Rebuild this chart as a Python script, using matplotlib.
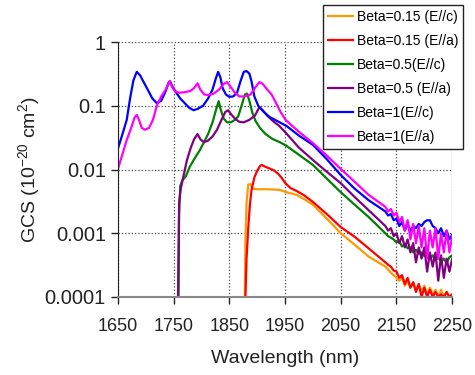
import matplotlib.pyplot as plt

plt.rcParams['font.family'] = ['Liberation Sans', 'DejaVu Sans']
plt.rcParams['mathtext.default'] = 'regular'

# noisy tail wavelengths shared by all curves (read every 5 nm)
tail_wl = [2130, 2135, 2140, 2145, 2150, 2155, 2160, 2165, 2170, 2175, 2180, 2185, 2190,
           2195, 2200, 2205, 2210, 2215, 2220, 2225, 2230, 2235, 2240, 2245, 2250]

# Beta=0.15 (E//c)
wl_015c = [1878, 1879, 1881, 1884, 1888, 1892, 1900, 1920, 1940, 1953, 1971, 1985, 2000, 2025, 2050,
           2075, 2100] + tail_wl
gcs_015c = [0.0001, 0.0008, 0.003, 0.0058, 0.0059, 0.005, 0.0049, 0.0049, 0.0048, 0.0044, 0.004, 0.0034,
            0.0028, 0.0017, 0.001, 0.00066, 0.00043,
            0.0003, 0.00027, 0.00024, 0.00022, 0.0002, 0.00018, 0.0002, 0.00015, 0.00018, 0.00014, 0.00017,
            0.00013, 0.00016, 0.00012, 0.00015, 0.00011, 0.00014, 0.00011, 0.00013, 0.0001, 0.00013, 0.0001,
            0.00012, 0.0001, 0.00011]

# Beta=0.15 (E//a)
wl_015a = [1879, 1881, 1884, 1887, 1890, 1895, 1900, 1905, 1908, 1915, 1922, 1930, 1938, 1944, 1950, 1960,
           1971, 1985, 2000, 2025, 2050, 2075, 2100] + tail_wl
gcs_015a = [0.0001, 0.0004, 0.0012, 0.0028, 0.0048, 0.0075, 0.0095, 0.0113, 0.0118, 0.011, 0.0104, 0.0097,
            0.0085, 0.0074, 0.0062, 0.0051, 0.0046, 0.0039, 0.0031, 0.002, 0.00125, 0.00088, 0.00058,
            0.00035, 0.00032, 0.0003, 0.00026, 0.00025, 0.0002, 0.00022, 0.00016, 0.0002, 0.00014, 0.00017,
            0.00012, 0.00016, 0.0001, 0.00014, 0.0001, 0.00013, 0.0001, 0.00012, 0.0001, 0.00011, 0.0001,
            0.00012, 0.0001, 0.00011]

# Beta=0.5 (E//c)
wl_05c = [1759, 1760, 1762, 1766, 1772, 1779, 1788, 1797, 1805, 1812, 1820, 1826, 1831, 1835, 1840, 1846,
          1853, 1860, 1866, 1872, 1878, 1882, 1886, 1891, 1897, 1905, 1915, 1928, 1940, 1951, 1975, 2000,
          2025, 2050, 2075, 2100] + tail_wl
gcs_05c = [0.0001, 0.002, 0.0055, 0.0068, 0.0078, 0.011, 0.015, 0.02, 0.027, 0.036, 0.055, 0.085, 0.118,
           0.085, 0.063, 0.055, 0.055, 0.06, 0.068, 0.1, 0.15, 0.155, 0.12, 0.08, 0.058, 0.045, 0.036, 0.03,
           0.027, 0.024, 0.017, 0.0118, 0.0072, 0.0044, 0.0028, 0.0018,
           0.001, 0.0009, 0.00085, 0.0008, 0.00072, 0.00075, 0.00062, 0.00068, 0.00058, 0.0006, 0.0005,
           0.00055, 0.00048, 0.0005, 0.00044, 0.00048, 0.0004, 0.00045, 0.00038, 0.00042, 0.00036, 0.0004,
           0.00034, 0.00042, 0.00045]

# Beta=0.5 (E//a)
wl_05a = [1758, 1760, 1763, 1768, 1774, 1781, 1787, 1793, 1798, 1804, 1811, 1820, 1828, 1836, 1843, 1848,
          1854, 1861, 1868, 1876, 1886, 1896, 1904, 1910, 1918, 1928, 1940, 1951, 1975, 2000, 2025, 2050,
          2075, 2100] + tail_wl
gcs_05a = [0.0001, 0.003, 0.005, 0.008, 0.014, 0.022, 0.03, 0.036, 0.03, 0.027, 0.028, 0.033, 0.042, 0.06,
           0.08, 0.085, 0.072, 0.062, 0.056, 0.055, 0.06, 0.07, 0.095, 0.085, 0.07, 0.058, 0.048, 0.038, 0.022,
           0.0141, 0.0092, 0.0061, 0.0037, 0.0023,
           0.0013, 0.0011, 0.0012, 0.0009, 0.001, 0.0007, 0.0009, 0.0006, 0.0008, 0.0005, 0.0007, 0.00035,
           0.0006, 0.0004, 0.0006, 0.00025, 0.0005, 0.0003, 0.0005, 0.00018, 0.00045, 0.0002, 0.0004, 0.00025,
           0.0004]

# Beta=1 (E//c)
wl_1c = [1650, 1658, 1666, 1672, 1678, 1684, 1690, 1697, 1705, 1712, 1720, 1728, 1736, 1741, 1744, 1748,
         1755, 1762, 1770, 1778, 1786, 1794, 1803, 1812, 1820, 1826, 1830, 1834, 1838, 1844, 1850, 1857,
         1864, 1870, 1876, 1881, 1886, 1890, 1895, 1902, 1912, 1922, 1937, 1953, 1975, 2000, 2025, 2050,
         2075, 2100] + tail_wl
gcs_1c = [0.021, 0.035, 0.06, 0.13, 0.25, 0.34, 0.3, 0.23, 0.17, 0.13, 0.11, 0.12, 0.17, 0.23, 0.24, 0.2,
          0.16, 0.13, 0.11, 0.093, 0.085, 0.09, 0.1, 0.13, 0.18, 0.27, 0.34, 0.28, 0.19, 0.15, 0.138, 0.14,
          0.16, 0.24, 0.34, 0.35, 0.32, 0.24, 0.14, 0.1, 0.08, 0.067, 0.057, 0.048, 0.034, 0.0244, 0.0145,
          0.0082, 0.005, 0.0033,
          0.0022, 0.0019, 0.002, 0.0016, 0.0017, 0.0013, 0.0015, 0.0011, 0.0014, 0.0011, 0.0013, 0.0012,
          0.0014, 0.0013, 0.0015, 0.0016, 0.0016, 0.0013, 0.0012, 0.001, 0.0012, 0.0009, 0.0011, 0.0008,
          0.00095]

# Beta=1 (E//a)
wl_1a = [1650, 1658, 1666, 1674, 1680, 1684, 1688, 1693, 1699, 1706, 1713, 1720, 1728, 1736, 1743, 1747,
         1752, 1760, 1770, 1780, 1787, 1793, 1798, 1805, 1812, 1822, 1832, 1840, 1846, 1852, 1860, 1868,
         1878, 1888, 1896, 1904, 1910, 1918, 1926, 1934, 1942, 1951, 1975, 2000, 2025, 2050, 2075,
         2100] + tail_wl
gcs_1a = [0.01, 0.017, 0.029, 0.045, 0.065, 0.072, 0.06, 0.045, 0.042, 0.045, 0.06, 0.1, 0.14, 0.18, 0.245,
          0.2, 0.17, 0.16, 0.163, 0.17, 0.19, 0.225, 0.18, 0.15, 0.147, 0.155, 0.18, 0.22, 0.235, 0.2, 0.16,
          0.14, 0.14, 0.15, 0.19, 0.235, 0.22, 0.18, 0.15, 0.11, 0.08, 0.06, 0.039, 0.026, 0.0165, 0.0102,
          0.0064, 0.004,
          0.0026, 0.0022, 0.0024, 0.0019, 0.0021, 0.0015, 0.0018, 0.0011, 0.0016, 0.0008, 0.0014, 0.0007,
          0.0013, 0.0006, 0.0012, 0.0004, 0.0011, 0.0006, 0.0012, 0.0004, 0.001, 0.0005, 0.0011, 0.0005,
          0.0009]

x_ticks = [1650, 1750, 1850, 1950, 2050, 2150, 2250]
y_ticks = [0.0001, 0.001, 0.01, 0.1, 1]
y_tick_labels = ["0.0001", "0.001", "0.01", "0.1", "1"]

fig = plt.figure(figsize=(4.75, 3.75), dpi=100)
ax = fig.add_axes([0.248, 0.208, 0.704, 0.680])

lw = 1.6
ax.plot(wl_015c, gcs_015c, color="#FF9900", lw=lw, label="Beta=0.15 (E//c)")
ax.plot(wl_015a, gcs_015a, color="#FF0000", lw=lw, label="Beta=0.15 (E//a)")
ax.plot(wl_05c, gcs_05c, color="#008000", lw=lw, label="Beta=0.5(E//c)")
ax.plot(wl_05a, gcs_05a, color="#800080", lw=lw, label="Beta=0.5 (E//a)")
ax.plot(wl_1c, gcs_1c, color="#0000FF", lw=lw, label="Beta=1(E//c)")
ax.plot(wl_1a, gcs_1a, color="#FF00FF", lw=lw, label="Beta=1(E//a)")

ax.set_yscale("log")
ax.set_xlim(1650, 2250)
ax.set_ylim(0.0001, 1)
ax.set_xticks(x_ticks)
ax.set_yticks(y_ticks)
ax.set_yticklabels(y_tick_labels)
ax.minorticks_off()
ax.tick_params(axis="both", direction="out", length=5, width=1, colors="#222222")
ax.tick_params(axis="x", pad=10, labelsize=13)
ax.tick_params(axis="y", labelsize=14.5)
ax.grid(True, linestyle=":", color="#444444", linewidth=0.9)

for s in ["top", "right"]:
    ax.spines[s].set_visible(False)
ax.spines["left"].set_color("#222222")
ax.spines["bottom"].set_color("#888888")
ax.spines["bottom"].set_linewidth(1.5)

ax.set_xlabel("Wavelength (nm)", fontsize=14, color="#222222", labelpad=11)
ax.set_ylabel("GCS (10$^{-20}$ cm$^{2}$)", fontsize=14, color="#222222", labelpad=2)

leg = fig.legend(loc="upper right", bbox_to_anchor=(463 / 475, 1 - 5 / 375), fontsize=10,
                 frameon=True, fancybox=False, framealpha=1, edgecolor="#222222",
                 handlelength=1.8, handletextpad=0.25, labelspacing=0.72, borderpad=0.35,
                 borderaxespad=0)
leg.get_frame().set_linewidth(1.0)

fig.savefig("out.png", dpi=100)
